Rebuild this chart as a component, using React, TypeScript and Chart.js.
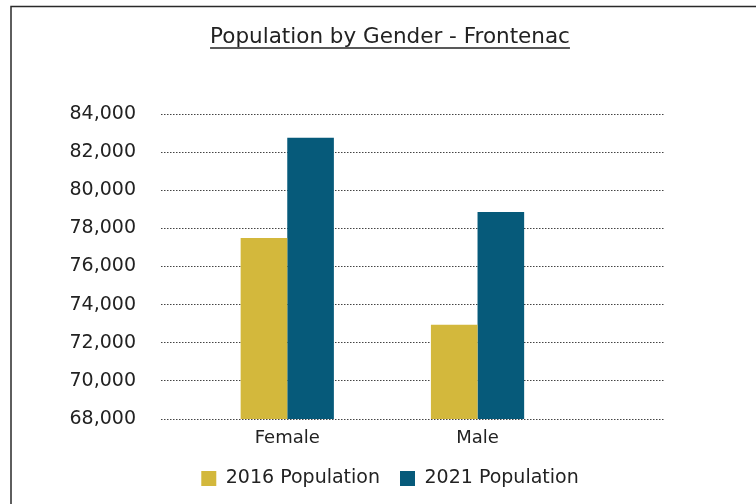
import React, { useEffect, useRef } from 'react';
import { Chart, registerables } from 'chart.js';

Chart.register(...registerables);

// ---- data ----
const categories = ['Female', 'Male'];
const seriesLabels = ['2016 Population', '2021 Population'];
const population2016 = [77490, 72950];
const population2021 = [82750, 78860];
const yMin = 68000;
const yMax = 84000;
const yStep = 2000;
const chartTitle = 'Population by Gender - Frontenac';

const FONT = '"DejaVu Sans", "Liberation Sans", sans-serif';
const COLOR_2016 = '#D3B83C';
const COLOR_2021 = '#065A7A';
const TEXT = '#222222';
const TITLE_SIZE = 21.5;
const TITLE_PAD_TOP = 25;

export default function App() {
  const ref = useRef<HTMLCanvasElement>(null);

  useEffect(() => {
    if (!ref.current) return;

    const framePlugin = {
      id: 'frame',
      beforeDraw(chart: any) {
        const ctx = chart.ctx;
        ctx.save();
        ctx.fillStyle = '#ffffff';
        ctx.fillRect(0, 0, chart.width, chart.height);
        ctx.strokeStyle = '#2a2a2a';
        ctx.lineWidth = 1.5;
        ctx.beginPath();
        ctx.moveTo(11, chart.height);
        ctx.lineTo(11, 6.5);
        ctx.lineTo(chart.width, 6.5);
        ctx.stroke();
        ctx.restore();
      },
    };

    const underlinePlugin = {
      id: 'titleUnderline',
      afterDraw(chart: any) {
        const tb = chart.titleBlock;
        if (!tb) return;
        const ctx = chart.ctx;
        ctx.save();
        ctx.font = `normal ${TITLE_SIZE}px ${FONT}`;
        ctx.textBaseline = 'middle';
        const w = ctx.measureText(chartTitle).width;
        const m = ctx.measureText('H');
        const cx = (tb.left + tb.right) / 2;
        const midY = tb.top + TITLE_PAD_TOP + (TITLE_SIZE * 1.2) / 2;
        const baseline = midY + m.actualBoundingBoxDescent;
        ctx.strokeStyle = TEXT;
        ctx.lineWidth = 1.5;
        ctx.beginPath();
        ctx.moveTo(cx - w / 2, baseline + 4.5);
        ctx.lineTo(cx + w / 2, baseline + 4.5);
        ctx.stroke();
        ctx.restore();
      },
    };

    const chart = new Chart(ref.current, {
      type: 'bar',
      data: {
        datasets: [
          {
            label: seriesLabels[0],
            data: population2016.map((v, i) => ({ x: i, y: v })),
            backgroundColor: COLOR_2016,
            borderWidth: 0,
          },
          {
            label: seriesLabels[1],
            data: population2021.map((v, i) => ({ x: i, y: v })),
            backgroundColor: COLOR_2021,
            borderWidth: 0,
          },
        ],
      },
      options: {
        responsive: false,
        animation: false,
        layout: { padding: { left: 116, right: 92, top: 0, bottom: 6 } },
        datasets: { bar: { categoryPercentage: 0.49, barPercentage: 1 } },
        scales: {
          x: {
            type: 'linear',
            offset: false,
            min: -0.6636,
            max: 1.98,
            afterBuildTicks(scale: any) {
              scale.ticks = categories.map((_, i) => ({ value: i }));
            },
            afterFit(scale: any) {
              scale.height = 30;
            },
            grid: { display: false, drawTicks: false },
            border: { display: false },
            ticks: {
              color: TEXT,
              padding: 9,
              font: { family: FONT, size: 18 },
              callback: (v: any) => categories[v as number] ?? '',
            },
          },
          y: {
            min: yMin,
            max: yMax,
            afterFit(scale: any) {
              scale.width = 45;
            },
            afterUpdate(scale: any) {
              scale._computeLabelArea = () => undefined;
            },
            grid: {
              color: '#444444',
              lineWidth: 1,
              drawTicks: false,
            },
            border: { display: false, dash: [1.5, 1.5] },
            ticks: {
              stepSize: yStep,
              color: TEXT,
              padding: 25,
              font: { family: FONT, size: 19 },
              callback: (v: any) => Number(v).toLocaleString('en-US'),
            },
          },
        },
        plugins: {
          title: {
            display: true,
            text: chartTitle,
            color: TEXT,
            font: { family: FONT, size: TITLE_SIZE, weight: 'normal' },
            padding: { top: TITLE_PAD_TOP, bottom: 63.2 },
          },
          legend: {
            position: 'bottom',
            labels: {
              color: TEXT,
              boxWidth: 15,
              boxHeight: 15,
              padding: 20,
              font: { family: FONT, size: 19 },
            },
          },
          tooltip: { enabled: false },
        },
      },
      plugins: [framePlugin, underlinePlugin],
    } as any);

    return () => chart.destroy();
  }, []);

  return (
    <div style={{ position: 'fixed', left: 0, top: 0, width: 756, height: 504, background: '#fff' }}>
      <canvas ref={ref} width={756} height={504} style={{ display: 'block' }} />
    </div>
  );
}
